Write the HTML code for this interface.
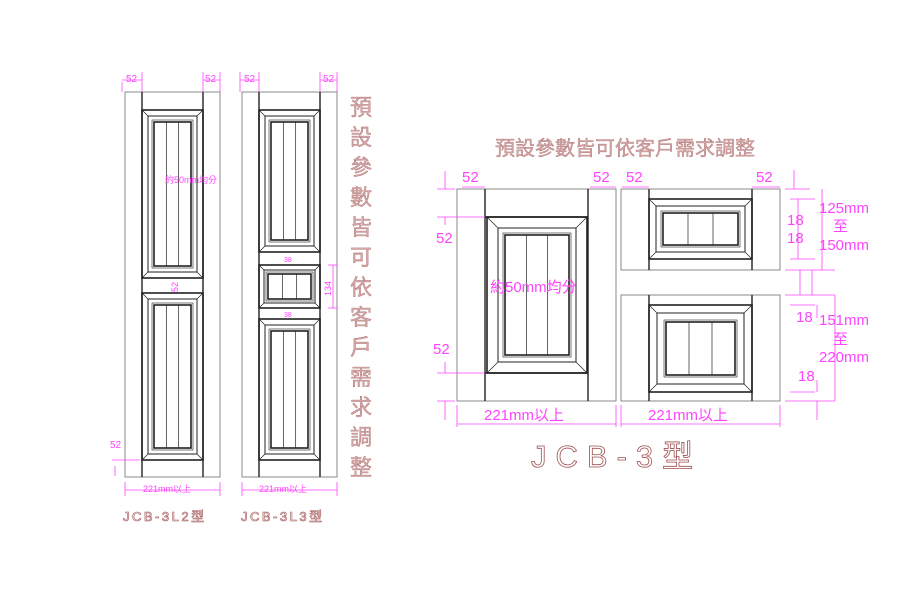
<!DOCTYPE html>
<html><head><meta charset="utf-8"><style>
html,body{margin:0;padding:0;background:#fff;}
svg{display:block;}
</style></head><body>
<svg id="s" width="901" height="601" viewBox="0 0 901 601" xmlns="http://www.w3.org/2000/svg" font-family="Liberation Sans, Noto Sans CJK TC, sans-serif">
<rect width="901" height="601" fill="#fff"/>
<g id="g" fill="none" stroke="#222"></g>
<g id="d" fill="none" stroke="#ff44ff" stroke-width="0.8"></g>
<g fill="#ff44ff" font-size="10">
<text x="126" y="82">52</text><text x="205" y="82">52</text>
<text x="244" y="82">52</text><text x="323" y="82">52</text>
<text x="165" y="183" font-size="9">約50mm均分</text>
<text x="178" y="292" font-size="9" transform="rotate(-90 178 292)">52</text>
<text x="110" y="448">52</text>
<text x="143" y="492" font-size="9">221mm以上</text>
<text x="259" y="492" font-size="9">221mm以上</text>
<text x="284" y="262" font-size="7">38</text><text x="284" y="317" font-size="7">38</text>
<text x="331" y="296" font-size="9" transform="rotate(-90 331 296)">134</text>
</g>
<g fill="#ff44ff" font-size="15">
<text x="462" y="182">52</text><text x="593" y="182">52</text>
<text x="626" y="182">52</text><text x="756" y="182">52</text>
<text x="436" y="243">52</text><text x="433" y="354">52</text>
<text x="490" y="292">約50mm均分</text>
<text x="484" y="420">221mm以上</text><text x="648" y="420">221mm以上</text>
<text x="787" y="225">18</text><text x="787" y="243">18</text>
<text x="819" y="213">125mm</text><text x="833" y="231">至</text><text x="819" y="250">150mm</text>
<text x="796" y="322">18</text>
<text x="819" y="325">151mm</text><text x="833" y="344">至</text><text x="819" y="362">220mm</text>
<text x="798" y="381">18</text>
</g>
<text x="495" y="155" font-size="20" fill="#d4a8a8" stroke="#a05858" stroke-width="0.3" font-family="Noto Sans CJK TC, sans-serif">預設參數皆可依客戶需求調整</text>
<g id="v" font-size="22" fill="#d4a8a8" stroke="#a05858" stroke-width="0.3" font-family="Noto Sans CJK TC, sans-serif"></g>
<text x="531" y="467" font-size="31" fill="none" stroke="#a05050" stroke-width="0.8" letter-spacing="9">JCB-3型</text>
<text x="123" y="521" font-size="13" fill="#fff" stroke="#a05050" stroke-width="0.6" letter-spacing="2.5">JCB-3L2型</text>
<text x="241" y="521" font-size="13" fill="#fff" stroke="#a05050" stroke-width="0.6" letter-spacing="2.5">JCB-3L3型</text>
</svg>
<script>
var NS="http://www.w3.org/2000/svg",g=document.getElementById('g'),d=document.getElementById('d');
function el(p,t,a){var e=document.createElementNS(NS,t);for(var k in a)e.setAttribute(k,a[k]);p.appendChild(e);return e;}
function R(x1,y1,x2,y2,w,c){el(g,'rect',{x:x1,y:y1,width:x2-x1,height:y2-y1,'stroke-width':w||1,stroke:c||'#222'});}
function L(x1,y1,x2,y2,w,p){el(p||g,'line',{x1:x1,y1:y1,x2:x2,y2:y2,'stroke-width':w||1});}
function panel(x1,y1,x2,y2,b1,b2){
 R(x1,y1,x2,y2,1.6);
 R(x1+b1,y1+b1,x2-b1,y2-b1,1);
 var a=x1+b1+b2,bb=y1+b1+b2,c=x2-b1-b2,dd=y2-b1-b2;
 R(a,bb,c,dd,1.6);
 L(x1,y1,x1+b1,y1+b1,0.7);L(x2,y1,x2-b1,y1+b1,0.7);L(x1,y2,x1+b1,y2-b1,0.7);L(x2,y2,x2-b1,y2-b1,0.7);
 R(a-2,bb-2,c+2,dd+2,0.6);
 for(var i=1;i<=2;i++){var gx=a+(c-a)*i/3;L(gx,bb,gx,dd,0.7);}
}
function door(x1,y1,x2,y2,s1,s2){R(x1,y1,x2,y2,1,'#888');L(s1,y1,s1,y2,1.4);L(s2,y1,s2,y2,1.4);}
door(125,92,220,477,142,203);
panel(142,110,203,278,6,6);panel(142,293,203,460,6,6);
door(242,92,337,477,259,320);
panel(259,110,320,252,6,6);panel(259,265,320,308,5,4);
panel(259,319,320,460,6,6);
door(457,189,616,401,485,588);
L(485,217,588,217,1.6);L(485,373,588,373,1.6);
panel(487,217,587,373,11,7);
door(621,189,780,270,649,752);
panel(649,199,752,259,7,7);
door(621,295,780,401,649,752);
panel(649,305,752,392,8,9);
var dl=[[122,82,122,92],[142,72,142,92],[203,72,203,92],[220,72,220,92],[122,80,142,80],[203,80,220,80],
[240,72,240,92],[259,72,259,92],[320,72,320,92],[337,72,337,92],[240,80,259,80],[320,80,337,80],
[125,482,125,496],[220,482,220,496],[125,490,220,490],[242,482,242,496],[337,482,337,496],[242,490,337,490],
[112,460,140,460],[115,466,115,476],[328,265,337,265],[328,308,337,308],[333,265,333,308],
[445,189,445,171],[437,189,455,189],[445,401,445,420],[437,401,455,401],[437,217,485,217],[445,217,445,225],[437,373,485,373],[445,362,445,373],
[457,405,457,427],[616,405,616,427],[457,424,616,424],[621,405,621,427],[780,405,780,427],[621,424,780,424],
[462,187,485,187],[590,187,616,187],[622,187,649,187],[752,187,780,187],
[785,189,810,189],[785,270,835,270],[785,295,835,295],[785,401,835,401],[790,199,815,199],[790,259,815,259],[790,305,815,305],[790,392,815,392],
[794,170,794,189],[798,199,798,259],[822,189,822,270],[812,270,812,295],[800,270,800,295],[817,305,817,318],[835,295,835,401],[817,380,817,392],[817,401,817,420]];
dl.forEach(function(a){L(a[0],a[1],a[2],a[3],0.8,d);});
var v=document.getElementById('v'),s='預設參數皆可依客戶需求調整';
for(var i=0;i<s.length;i++){var t=el(v,'text',{x:350,y:115+i*30});t.textContent=s[i];}
</script>
</body></html>
